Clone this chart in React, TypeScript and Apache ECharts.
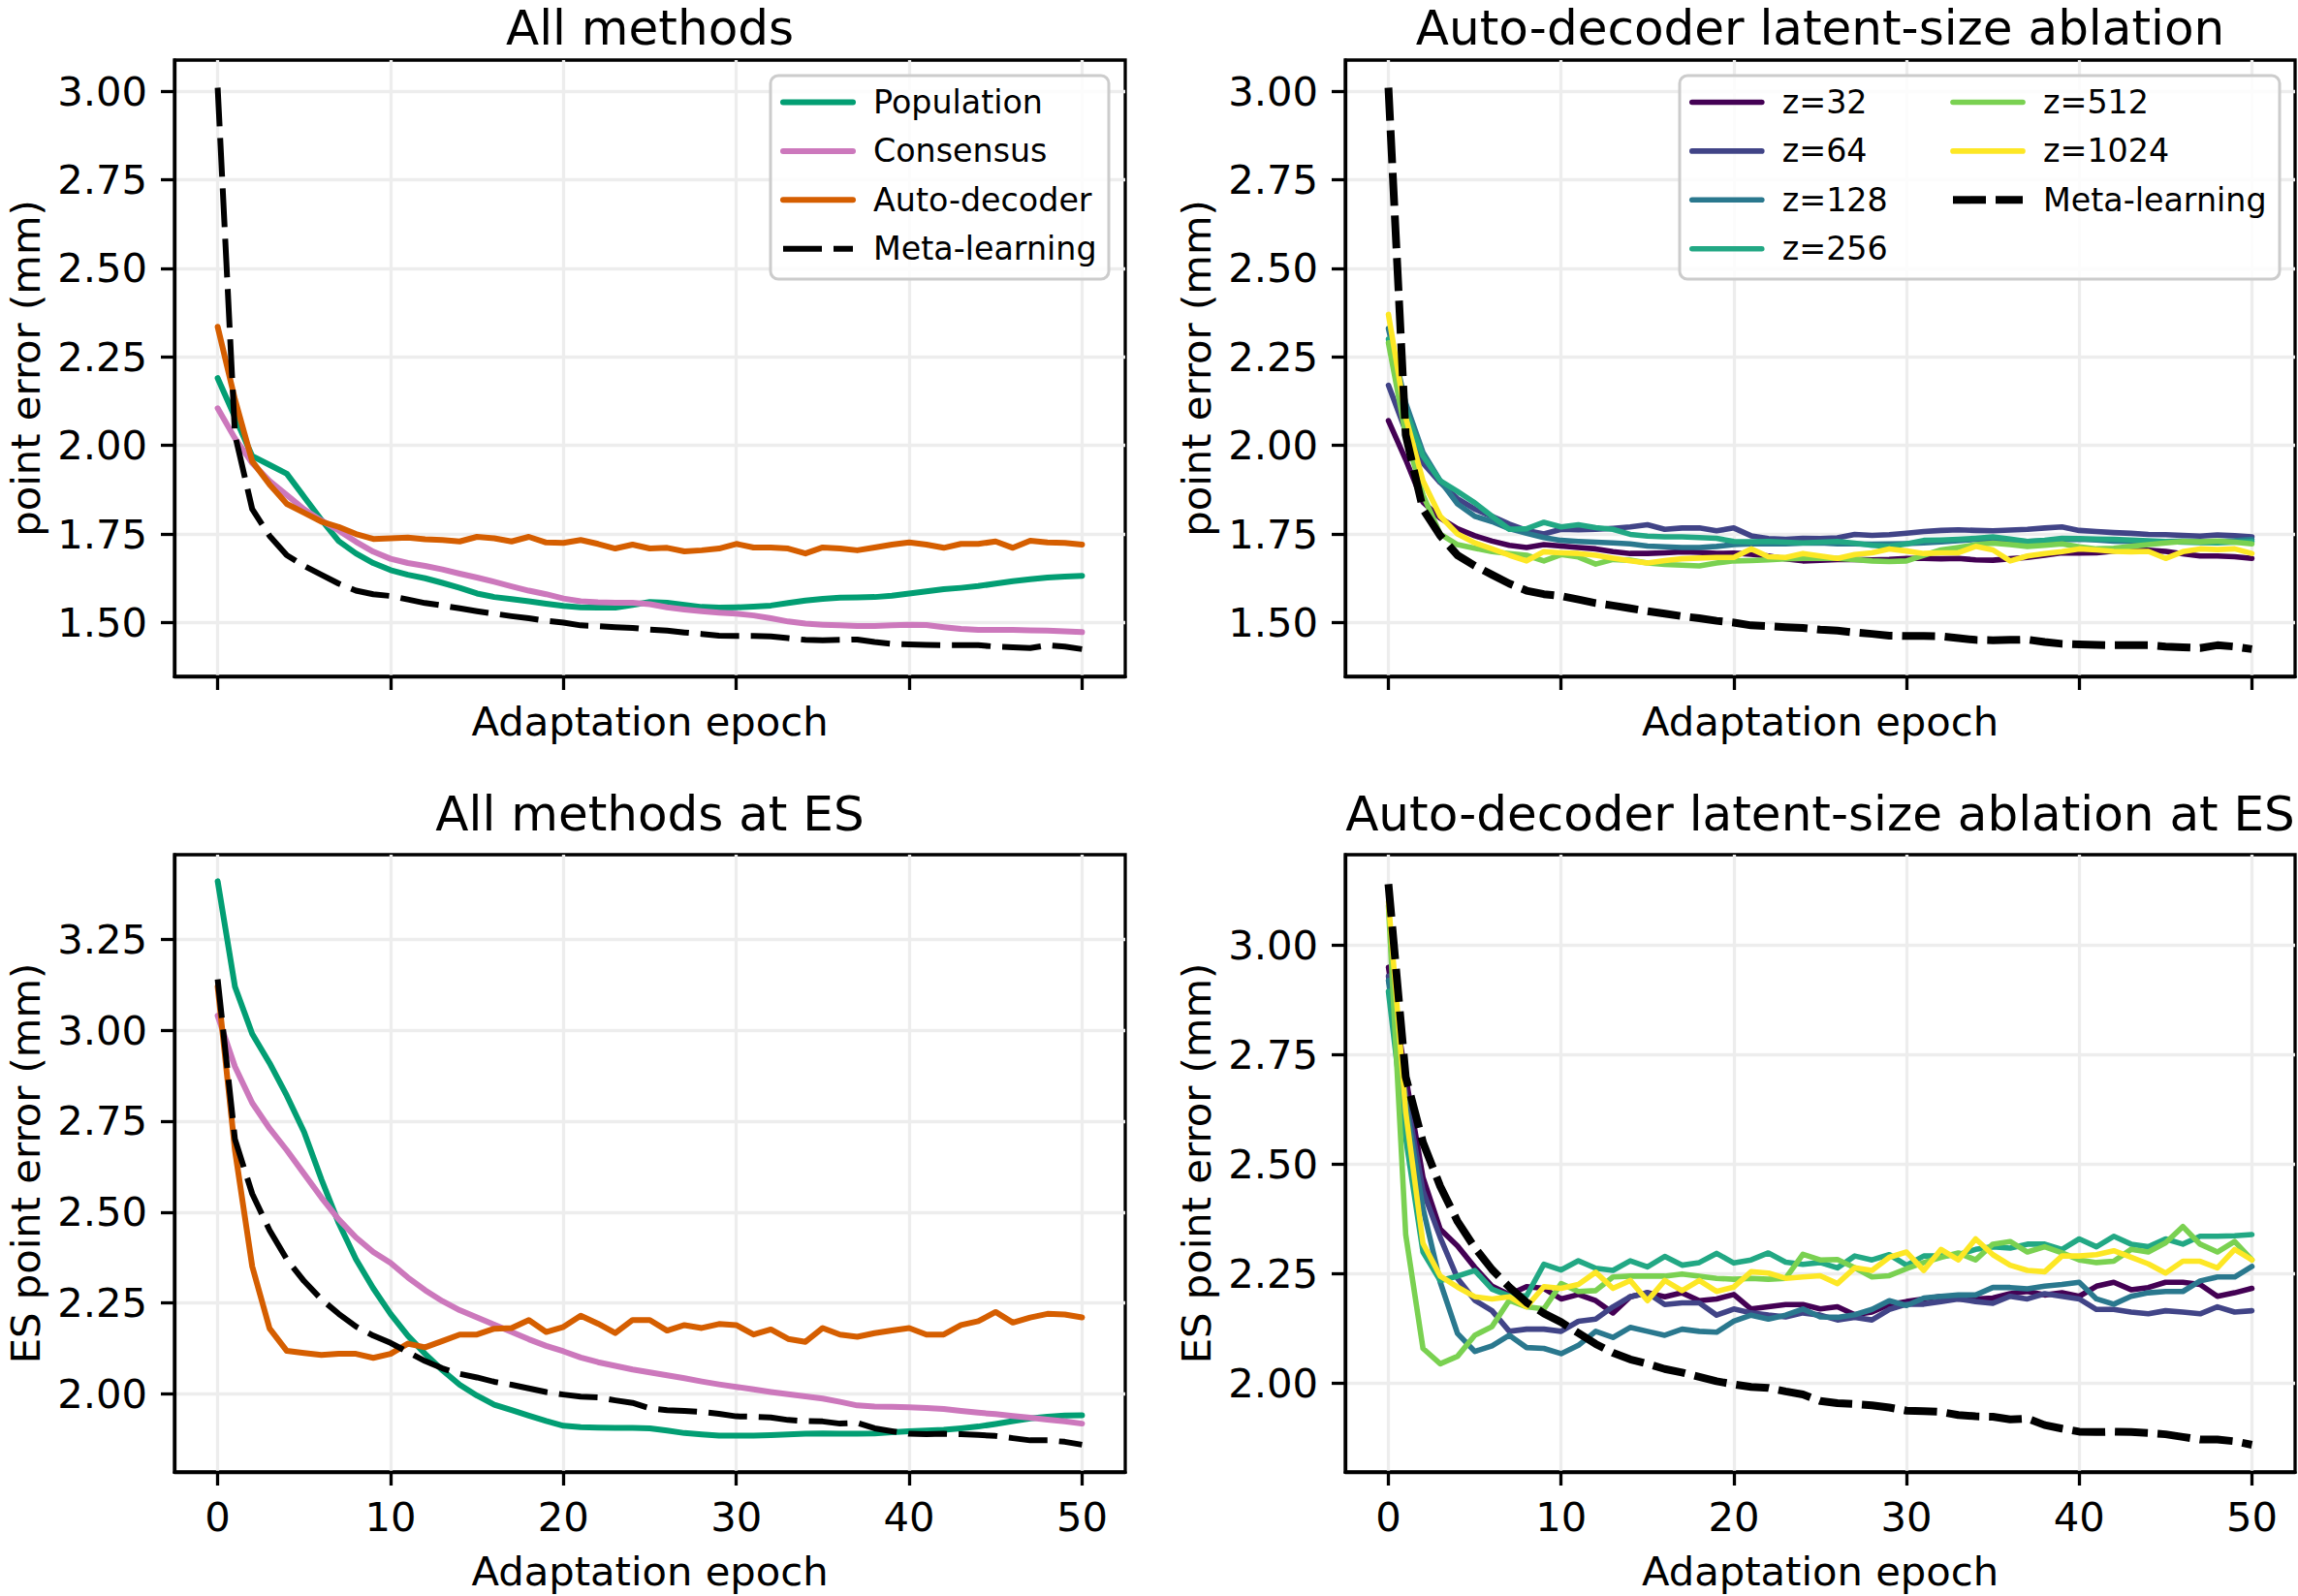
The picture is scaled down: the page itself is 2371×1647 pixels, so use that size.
import { useEffect, useRef } from "react";
import * as echarts from "echarts";

const FONT = "DejaVu Sans";

const epochs = [
  0, 1, 2, 3, 4, 5, 6, 7, 8, 9, 10, 11, 12, 13, 14, 15, 16, 17, 18, 19, 20, 21, 22, 23, 24, 25,
  26, 27, 28, 29, 30, 31, 32, 33, 34, 35, 36, 37, 38, 39, 40, 41, 42, 43, 44, 45, 46, 47, 48, 49, 50,
];
const xTicks = [0, 10, 20, 30, 40, 50];
const yTicksTop = [1.5, 1.75, 2, 2.25, 2.5, 2.75, 3];
const yTicksBL = [2, 2.25, 2.5, 2.75, 3, 3.25];
const yTicksBR = [2, 2.25, 2.5, 2.75, 3];

const titles = [
  "All methods",
  "Auto-decoder latent-size ablation",
  "All methods at ES",
  "Auto-decoder latent-size ablation at ES",
];
const methodNames = ["Population", "Consensus", "Auto-decoder", "Meta-learning"];
const latentNames = ["z=32", "z=64", "z=128", "z=256", "z=512", "z=1024"];

// ---- top row: point error ----
const metaLearning = [
  3.01, 2.03, 1.82, 1.745, 1.69, 1.66, 1.635, 1.61, 1.59, 1.58,
  1.575, 1.565, 1.555, 1.548, 1.54, 1.532, 1.525, 1.518, 1.512, 1.505,
  1.5, 1.492, 1.49, 1.487, 1.485, 1.48, 1.477, 1.472, 1.468, 1.463,
  1.462, 1.462, 1.461, 1.456, 1.451, 1.45, 1.451, 1.452, 1.445, 1.44,
  1.438, 1.437, 1.436, 1.436, 1.436, 1.432, 1.43, 1.428, 1.436, 1.432,
  1.425,
];
const population = [
  2.19, 2.08, 1.97, 1.945, 1.92, 1.855, 1.79, 1.73, 1.695, 1.668,
  1.648, 1.635, 1.625, 1.612, 1.598, 1.582, 1.572, 1.566, 1.56, 1.553,
  1.547, 1.543, 1.542, 1.542, 1.55, 1.558, 1.556, 1.55, 1.544, 1.542,
  1.543, 1.545, 1.548, 1.555, 1.562, 1.567, 1.57, 1.571, 1.572, 1.576,
  1.582, 1.588, 1.594, 1.598, 1.603, 1.61, 1.617, 1.622, 1.627, 1.63,
  1.632,
];
const consensus = [
  2.105, 2.02, 1.95, 1.9, 1.86, 1.82, 1.788, 1.76, 1.728, 1.7,
  1.68, 1.668, 1.66, 1.65, 1.638, 1.627, 1.615, 1.602, 1.59, 1.58,
  1.568, 1.56, 1.557, 1.556, 1.556, 1.552, 1.543, 1.537, 1.532, 1.528,
  1.525, 1.52, 1.512, 1.503, 1.497, 1.494, 1.492, 1.49, 1.49, 1.492,
  1.494, 1.493, 1.487, 1.482, 1.479, 1.479, 1.479, 1.478, 1.477, 1.475,
  1.473,
];
const autoDecoder = [
  2.335, 2.13, 1.955, 1.89, 1.835, 1.81, 1.785, 1.77, 1.75, 1.736,
  1.738, 1.74, 1.735, 1.733, 1.729, 1.742, 1.738, 1.729, 1.742, 1.726,
  1.725, 1.733, 1.722, 1.709, 1.72, 1.709, 1.711, 1.701, 1.704, 1.709,
  1.722, 1.712, 1.712, 1.709, 1.695, 1.712, 1.709, 1.704, 1.712, 1.72,
  1.726, 1.72, 1.711, 1.722, 1.722, 1.729, 1.711, 1.731, 1.726, 1.725,
  1.72,
];
const z32 = [
  2.07, 1.96, 1.84, 1.795, 1.765, 1.745, 1.73, 1.718, 1.712, 1.72,
  1.716, 1.712, 1.708, 1.7, 1.695, 1.695, 1.697, 1.7, 1.698, 1.695,
  1.696, 1.693, 1.688, 1.68, 1.674, 1.676, 1.678, 1.678, 1.677, 1.678,
  1.681, 1.681, 1.68, 1.681, 1.677, 1.676, 1.68, 1.684, 1.69, 1.697,
  1.696, 1.697, 1.702, 1.708, 1.704, 1.701, 1.694, 1.688, 1.688, 1.686,
  1.681,
];
const z64 = [
  2.17, 2.04, 1.95, 1.895, 1.85, 1.82, 1.8, 1.778, 1.76, 1.75,
  1.763, 1.762, 1.763, 1.766, 1.77, 1.776, 1.763, 1.767, 1.767, 1.759,
  1.767, 1.745, 1.737, 1.735, 1.738, 1.737, 1.739, 1.749, 1.746, 1.748,
  1.752, 1.757, 1.76, 1.762, 1.76, 1.759, 1.761, 1.763, 1.767, 1.77,
  1.76, 1.757, 1.754, 1.752, 1.749, 1.748, 1.746, 1.744, 1.747, 1.745,
  1.742,
];
const z128 = [
  2.33, 2.12, 1.98, 1.9, 1.835, 1.8, 1.785, 1.765, 1.752, 1.74,
  1.732, 1.729, 1.727, 1.725, 1.722, 1.716, 1.714, 1.712, 1.712, 1.715,
  1.72, 1.722, 1.722, 1.722, 1.724, 1.725, 1.722, 1.722, 1.721, 1.722,
  1.723, 1.725, 1.728, 1.731, 1.735, 1.734, 1.731, 1.729, 1.731, 1.734,
  1.735, 1.733, 1.73, 1.729, 1.728, 1.729, 1.73, 1.729, 1.729, 1.731,
  1.735,
];
const z256 = [
  2.3, 2.1, 1.97, 1.9, 1.87, 1.838, 1.8, 1.763, 1.765, 1.783,
  1.77, 1.776, 1.768, 1.763, 1.749, 1.744, 1.742, 1.742, 1.74, 1.738,
  1.729, 1.728, 1.729, 1.727, 1.725, 1.727, 1.729, 1.724, 1.718, 1.715,
  1.722, 1.732, 1.733, 1.735, 1.738, 1.742, 1.736, 1.729, 1.732, 1.738,
  1.737, 1.736, 1.735, 1.733, 1.731, 1.729, 1.727, 1.726, 1.725, 1.727,
  1.729,
];
const z512 = [
  2.29, 2.03, 1.86, 1.75, 1.72, 1.71, 1.7, 1.695, 1.69, 1.674,
  1.692, 1.685, 1.665, 1.678, 1.676, 1.668, 1.664, 1.662, 1.66, 1.668,
  1.674, 1.675, 1.677, 1.68, 1.681, 1.682, 1.681, 1.678, 1.674, 1.672,
  1.674, 1.69, 1.705, 1.712, 1.72, 1.724, 1.72, 1.715, 1.718, 1.722,
  1.714, 1.708, 1.71, 1.715, 1.72, 1.725, 1.729, 1.728, 1.73, 1.727,
  1.722,
];
const z1024 = [
  2.37, 2.08, 1.9, 1.8, 1.75, 1.725, 1.708, 1.69, 1.674, 1.7,
  1.697, 1.695, 1.69, 1.682, 1.674, 1.668, 1.675, 1.68, 1.682, 1.684,
  1.684, 1.708, 1.686, 1.684, 1.695, 1.688, 1.681, 1.692, 1.697, 1.708,
  1.702, 1.695, 1.697, 1.697, 1.715, 1.705, 1.674, 1.688, 1.695, 1.7,
  1.708, 1.705, 1.701, 1.7, 1.701, 1.681, 1.7, 1.708, 1.706, 1.708,
  1.695,
];

// ---- bottom row: ES point error ----
const metaLearningES = [
  3.14, 2.7, 2.55, 2.45, 2.37, 2.31, 2.26, 2.22, 2.185, 2.16,
  2.14, 2.115, 2.09, 2.07, 2.055, 2.045, 2.033, 2.025, 2.015, 2.005,
  1.998, 1.992, 1.99, 1.982, 1.975, 1.96, 1.955, 1.953, 1.95, 1.945,
  1.938, 1.937, 1.935, 1.928, 1.925, 1.924, 1.918, 1.92, 1.905, 1.897,
  1.89, 1.889, 1.89, 1.889, 1.887, 1.884, 1.878, 1.872, 1.872, 1.868,
  1.86,
];
const populationES = [
  3.41, 3.12, 2.99, 2.91, 2.82, 2.72, 2.59, 2.47, 2.37, 2.29,
  2.22, 2.16, 2.11, 2.065, 2.025, 1.995, 1.97, 1.955, 1.94, 1.925,
  1.912, 1.908, 1.907, 1.906, 1.906, 1.905, 1.899, 1.892, 1.888, 1.885,
  1.885, 1.885, 1.886, 1.888, 1.89, 1.891, 1.89, 1.89, 1.891, 1.894,
  1.897, 1.899, 1.901, 1.905, 1.91, 1.917, 1.925, 1.932, 1.937, 1.94,
  1.941,
];
const consensusES = [
  3.04, 2.9, 2.8, 2.73, 2.67, 2.605, 2.54, 2.48, 2.43, 2.39,
  2.36, 2.32, 2.285, 2.255, 2.23, 2.21, 2.19, 2.17, 2.15, 2.132,
  2.117, 2.1, 2.087, 2.077, 2.067, 2.059, 2.051, 2.043, 2.034, 2.026,
  2.019, 2.012, 2.005, 1.999, 1.993, 1.987, 1.978, 1.968, 1.965, 1.964,
  1.963, 1.961, 1.958, 1.953, 1.948, 1.944, 1.939, 1.934, 1.929, 1.924,
  1.918,
];
const autoDecoderES = [
  3.12, 2.67, 2.35, 2.18, 2.118, 2.112, 2.107, 2.11, 2.11, 2.099,
  2.11, 2.138, 2.128, 2.145, 2.163, 2.163, 2.179, 2.181, 2.203, 2.17,
  2.184, 2.215, 2.193, 2.167, 2.203, 2.203, 2.174, 2.189, 2.181, 2.192,
  2.189, 2.163, 2.177, 2.151, 2.143, 2.181, 2.163, 2.157, 2.167, 2.174,
  2.181, 2.163, 2.163, 2.189, 2.2, 2.225, 2.196, 2.21, 2.22, 2.218,
  2.21,
];
const z32ES = [
  2.95, 2.7, 2.47, 2.352, 2.314, 2.265, 2.222, 2.203, 2.221, 2.217,
  2.193, 2.203, 2.189, 2.161, 2.198, 2.207, 2.198, 2.207, 2.189, 2.193,
  2.203, 2.17, 2.175, 2.18, 2.18, 2.17, 2.175, 2.157, 2.163, 2.18,
  2.187, 2.193, 2.199, 2.193, 2.193, 2.195, 2.205, 2.21, 2.202, 2.207,
  2.199, 2.222, 2.231, 2.214, 2.219, 2.231, 2.231, 2.226, 2.199, 2.207,
  2.217,
];
const z64ES = [
  2.93, 2.66, 2.44, 2.333, 2.24, 2.19, 2.166, 2.119, 2.124, 2.124,
  2.119, 2.142, 2.147, 2.175, 2.198, 2.207, 2.18, 2.184, 2.184, 2.156,
  2.17, 2.161, 2.156, 2.152, 2.161, 2.156, 2.145, 2.151, 2.145, 2.169,
  2.181, 2.181, 2.187, 2.193, 2.187, 2.183, 2.199, 2.193, 2.205, 2.199,
  2.193, 2.169, 2.169, 2.163, 2.159, 2.166, 2.163, 2.159, 2.175, 2.163,
  2.166,
];
const z128ES = [
  2.92, 2.64, 2.4, 2.231, 2.114, 2.073, 2.086, 2.11, 2.082, 2.08,
  2.068, 2.087, 2.119, 2.105, 2.128, 2.119, 2.11, 2.124, 2.119, 2.117,
  2.142, 2.156, 2.147, 2.156, 2.17, 2.152, 2.151, 2.157, 2.169, 2.189,
  2.178, 2.195, 2.199, 2.202, 2.202, 2.219, 2.219, 2.216, 2.222, 2.226,
  2.231, 2.193, 2.181, 2.199, 2.207, 2.21, 2.21, 2.234, 2.243, 2.243,
  2.267,
];
const z256ES = [
  2.895, 2.56, 2.3, 2.235, 2.245, 2.258, 2.215, 2.2, 2.2, 2.272,
  2.259, 2.28, 2.263, 2.258, 2.28, 2.266, 2.29, 2.27, 2.276, 2.297,
  2.275, 2.282, 2.298, 2.277, 2.272, 2.276, 2.264, 2.291, 2.282, 2.294,
  2.27, 2.291, 2.291, 2.294, 2.306, 2.312, 2.309, 2.318, 2.318, 2.306,
  2.33, 2.312, 2.336, 2.318, 2.312, 2.33, 2.318, 2.336, 2.336, 2.337,
  2.34,
];
const z512ES = [
  3.09, 2.34, 2.08, 2.045, 2.062, 2.11, 2.13, 2.19, 2.175, 2.17,
  2.228, 2.21, 2.212, 2.243, 2.245, 2.245, 2.245, 2.25, 2.245, 2.24,
  2.238, 2.24, 2.238, 2.24, 2.295, 2.282, 2.283, 2.264, 2.243, 2.246,
  2.262, 2.276, 2.288, 2.298, 2.282, 2.318, 2.324, 2.3, 2.312, 2.298,
  2.282, 2.276, 2.279, 2.306, 2.3, 2.321, 2.358, 2.318, 2.3, 2.324,
  2.282,
];
const z1024ES = [
  3.1, 2.62, 2.32, 2.245, 2.22, 2.198, 2.193, 2.198, 2.175, 2.221,
  2.217, 2.226, 2.254, 2.217, 2.235, 2.189, 2.235, 2.212, 2.235, 2.21,
  2.22, 2.255, 2.252, 2.24, 2.243, 2.246, 2.228, 2.264, 2.258, 2.288,
  2.3, 2.258, 2.306, 2.282, 2.33, 2.294, 2.27, 2.258, 2.255, 2.291,
  2.291, 2.294, 2.303, 2.288, 2.273, 2.252, 2.279, 2.279, 2.264, 2.306,
  2.282,
];

const methodColors = ["#029e73", "#cc78bc", "#d55e00", "#000000"];
const viridis6 = ["#440154", "#414487", "#2a788e", "#22a884", "#7ad151", "#fde725"];

export default function App() {
  const ref = useRef<HTMLDivElement>(null);

  useEffect(() => {
    if (!ref.current) return;
    document.body.style.margin = "0";
    const chart = echarts.init(ref.current, null, { renderer: "svg" });

    const grids = [
      { left: 180, top: 62, width: 981, height: 636 },
      { left: 1388, top: 62, width: 980, height: 636 },
      { left: 180, top: 882, width: 981, height: 637 },
      { left: 1388, top: 882, width: 980, height: 637 },
    ];
    const yRanges = [
      [1.348, 3.088],
      [1.348, 3.088],
      [1.785, 3.483],
      [1.798, 3.207],
    ];
    const yTicks = [yTicksTop, yTicksTop, yTicksBL, yTicksBR];
    const yNames = ["point error (mm)", "point error (mm)", "ES point error (mm)", "ES point error (mm)"];

    const textBase = { fontFamily: FONT, color: "#000", fontSize: 41.7, lineHeight: 42 };
    const nameTextY = { fontFamily: FONT, color: "#000", fontSize: 41.7, lineHeight: 34 };
    const splitStyle = { show: true, lineStyle: { color: "#ededed", width: 3.3 } };
    const tickStyle = { length: 14, lineStyle: { color: "#000", width: 3.3 } };

    const xAxis = grids.map((_, i) => ({
      gridIndex: i,
      type: "value",
      min: -2.5,
      max: 52.5,
      splitNumber: 5,
      minInterval: 10,
      maxInterval: 10,
      axisLine: { show: true, onZero: false, lineStyle: { color: "#000", width: 3.3 } },
      axisTick: { show: true, inside: false, customValues: xTicks, ...tickStyle },
      axisLabel: {
        show: i >= 2,
        customValues: xTicks,
        margin: 25,
        ...textBase,
      },
      splitLine: splitStyle,
      name: "Adaptation epoch",
      nameLocation: "middle",
      nameGap: i >= 2 ? 81 : 25,
      nameMoveOverlap: false,
      nameTextStyle: textBase,
    }));

    const yAxis = grids.map((_, i) => ({
      gridIndex: i,
      type: "value",
      min: yRanges[i][0],
      max: yRanges[i][1],
      splitNumber: 7,
      minInterval: 0.25,
      maxInterval: 0.25,
      axisLine: { show: true, onZero: false, lineStyle: { color: "#000", width: 3.3 } },
      axisTick: { show: true, inside: false, customValues: yTicks[i], ...tickStyle },
      axisLabel: {
        show: true,
        customValues: yTicks[i],
        margin: 28,
        formatter: (v: number) => v.toFixed(2),
        ...textBase,
      },
      splitLine: splitStyle,
      name: yNames[i],
      nameLocation: "middle",
      nameRotate: 90,
      nameGap: 137,
      nameMoveOverlap: false,
      nameTextStyle: nameTextY,
    }));

    const mk = (name: string, vals: number[], g: number, color: string, width: number, dash?: number[]) => ({
      type: "line",
      name,
      xAxisIndex: g,
      yAxisIndex: g,
      data: epochs.map((e, k) => [e, vals[k]]),
      symbol: "none",
      showSymbol: false,
      silent: true,
      clip: true,
      lineStyle: { color, width, type: dash || "solid", join: "round", cap: dash ? "butt" : "round" },
      itemStyle: { color },
    });

    const metaDashThin = [40, 12];
    const metaDashThick = [34, 10];
    const zTop = [z32, z64, z128, z256, z512, z1024];
    const zES = [z32ES, z64ES, z128ES, z256ES, z512ES, z1024ES];
    const zWidth = 5.6;

    const series: any[] = [
      mk(methodNames[0], population, 0, methodColors[0], 6),
      mk(methodNames[1], consensus, 0, methodColors[1], 6),
      mk(methodNames[2], autoDecoder, 0, methodColors[2], 6),
      mk(methodNames[3], metaLearning, 0, methodColors[3], 6, metaDashThin),
      ...zTop.map((v, k) => mk(latentNames[k], v, 1, viridis6[k], zWidth)),
      mk(methodNames[3], metaLearning, 1, "#000000", 8, metaDashThick),
      mk(methodNames[0], populationES, 2, methodColors[0], 6),
      mk(methodNames[1], consensusES, 2, methodColors[1], 6),
      mk(methodNames[2], autoDecoderES, 2, methodColors[2], 6),
      mk(methodNames[3], metaLearningES, 2, methodColors[3], 6, metaDashThin),
      ...zES.map((v, k) => mk(latentNames[k], v, 3, viridis6[k], zWidth)),
      mk(methodNames[3], metaLearningES, 3, "#000000", 8, metaDashThick),
    ];

    const legendBase = {
      orient: "vertical",
      padding: 0,
      itemGap: 10.4,
      itemWidth: 72,
      itemHeight: 40,
      selectedMode: false,
      backgroundColor: "rgba(0,0,0,0)",
      itemStyle: { opacity: 0, borderWidth: 0 },
      textStyle: {
        fontFamily: FONT,
        fontSize: 33.3,
        color: "#000",
        lineHeight: 40,
        padding: [0, 0, 0, 16],
      },
    };

    const legend = [
      {
        ...legendBase,
        left: 805,
        top: 85.5,
        lineStyle: { width: 6 },
        data: [
          methodNames[0],
          methodNames[1],
          methodNames[2],
          { name: methodNames[3], lineStyle: { width: 6, type: metaDashThin } },
        ],
      },
      {
        ...legendBase,
        left: 1743,
        top: 85.5,
        lineStyle: { width: zWidth },
        data: latentNames.slice(0, 4),
      },
      {
        ...legendBase,
        left: 2011,
        top: 85.5,
        lineStyle: { width: zWidth },
        data: [
          latentNames[4],
          latentNames[5],
          { name: methodNames[3], lineStyle: { width: 8, type: metaDashThick, color: "#000" } },
        ],
      },
    ];

    const titleCenters = [
      [670.5, 29],
      [1878, 29],
      [670.5, 840],
      [1878, 840],
    ];

    const graphic: any[] = [
      {
        type: "rect",
        z: 3,
        shape: { x: 795, y: 78, width: 349, height: 210, r: 8 },
        style: { fill: "rgba(255,255,255,0.8)", stroke: "#cccccc", lineWidth: 3 },
      },
      {
        type: "rect",
        z: 3,
        shape: { x: 1733, y: 78, width: 619, height: 210, r: 8 },
        style: { fill: "rgba(255,255,255,0.8)", stroke: "#cccccc", lineWidth: 3 },
      },
      ...titles.map((t, i) => ({
        type: "text",
        x: titleCenters[i][0],
        y: titleCenters[i][1],
        style: {
          text: t,
          fontFamily: FONT,
          fontSize: 50,
          lineHeight: 40,
          fill: "#000",
          align: "center",
          verticalAlign: "middle",
        },
      })),
    ];

    const option: any = {
      animation: false,
      backgroundColor: "#ffffff",
      textStyle: { fontFamily: FONT },
      grid: grids.map((g) => ({
        ...g,
        show: true,
        borderColor: "#000",
        borderWidth: 3.3,
        backgroundColor: "rgba(0,0,0,0)",
        containLabel: false,
        outerBoundsMode: "none",
      })),
      xAxis,
      yAxis,
      legend,
      graphic,
      series,
    };

    chart.setOption(option);
    return () => chart.dispose();
  }, []);

  return (
    <div
      ref={ref}
      style={{ position: "absolute", left: 0, top: 0, width: 2371, height: 1647 }}
    />
  );
}
